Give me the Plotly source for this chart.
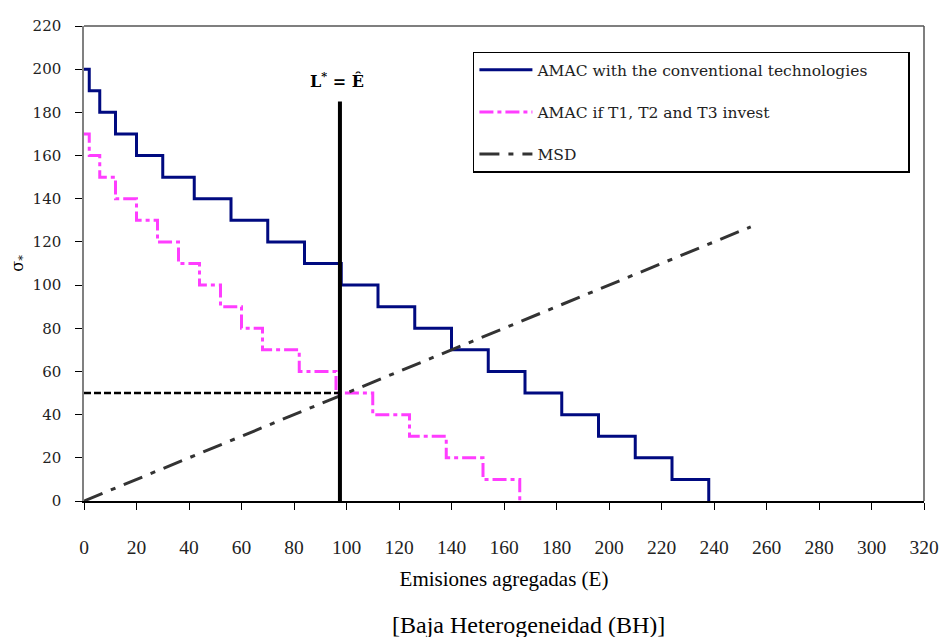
import plotly.graph_objects as go

# ---- data ----
amac_conv_x = [0, 2, 6, 12, 20, 30, 42, 56, 70, 84, 98, 112, 126, 140, 154, 168, 182, 196, 210, 224, 238]
amac_conv_y = [200, 190, 180, 170, 160, 150, 140, 130, 120, 110, 100, 90, 80, 70, 60, 50, 40, 30, 20, 10, 0]

amac_inv_x = [0, 2, 6, 12, 20, 28, 36, 44, 52, 60, 68, 82, 96, 110, 124, 138, 152, 166]
amac_inv_y = [170, 160, 150, 140, 130, 120, 110, 100, 90, 80, 70, 60, 50, 40, 30, 20, 10, 0]

msd_x = [0, 254]
msd_y = [0, 127]

e_hat = 97.5
e_hat_top = 185
sigma_eq = 50

x_ticks = list(range(0, 321, 20))
y_ticks = list(range(0, 221, 20))

serif = "DejaVu Serif"
times = "Liberation Serif"
nb = "\u00a0"

fig = go.Figure()

fig.add_trace(go.Scatter(
    x=amac_conv_x, y=amac_conv_y, mode="lines", line_shape="hv",
    line=dict(color="#000a80", width=3),
    name="AMAC with the conventional technologies" + nb * 7, legendgroup="a"))

fig.add_trace(go.Scatter(
    x=amac_inv_x, y=amac_inv_y, mode="lines", line_shape="hv",
    line=dict(color="#ff3dff", width=3, dash="14px,4px,4px,4px"),
    name="AMAC if T1, T2 and T3 invest", legendgroup="b"))

fig.add_trace(go.Scatter(
    x=msd_x, y=msd_y, mode="lines",
    line=dict(color="#333333", width=3, dash="20px,9px,5px,9px"),
    name="MSD", legendgroup="c"))

# vertical line at E-hat
fig.add_trace(go.Scatter(
    x=[e_hat, e_hat], y=[0, e_hat_top], mode="lines",
    line=dict(color="black", width=4), showlegend=False))

# horizontal dashed at equilibrium sigma
fig.add_trace(go.Scatter(
    x=[0, e_hat], y=[sigma_eq, sigma_eq], mode="lines",
    line=dict(color="black", width=2.5, dash="7px,3px"), showlegend=False))

fig.add_annotation(x=e_hat - 1, y=195, xref="x", yref="y",
                   text="<b>L<sup>*</sup> = Ê</b>", showarrow=False,
                   font=dict(family=serif, size=16, color="black"))

fig.add_annotation(x=0.5286, y=-0.26, xref="paper", yref="paper",
                   text="[Baja Heterogeneidad (BH)]", showarrow=False,
                   xanchor="center", yanchor="middle",
                   font=dict(family=times, size=24, color="black"))

fig.add_annotation(x=-0.079, y=0.501, xref="paper", yref="paper",
                   text="σ<sub>*</sub>", showarrow=False, textangle=-90,
                   xanchor="center", yanchor="middle",
                   font=dict(family=serif, size=16, color="black"))

# top and right frame
fig.add_shape(type="line", xref="paper", yref="paper", x0=0, x1=1, y0=1, y1=1,
              line=dict(color="#555555", width=1.5))
fig.add_shape(type="line", xref="paper", yref="paper", x0=1, x1=1, y0=0, y1=1,
              line=dict(color="#555555", width=1.5))

fig.update_xaxes(range=[0, 320], tickvals=x_ticks, ticktext=[str(v) for v in x_ticks],
                 showgrid=False, zeroline=False, showline=True, linecolor="black", linewidth=1.5,
                 ticks="outside", ticklen=7, tickcolor="black", tickwidth=1.2,
                 ticklabelstandoff=21, automargin=False,
                 tickfont=dict(family=times, size=19.5, color="#222"),
                 title=dict(text="Emisiones agregadas (E)", standoff=14,
                            font=dict(family=times, size=21, color="black")))

fig.update_yaxes(range=[0, 220], tickvals=y_ticks, ticktext=[str(v) for v in y_ticks],
                 showgrid=False, zeroline=False, showline=True, linecolor="#808080", linewidth=1.5,
                 ticks="outside", ticklen=7, tickcolor="black", tickwidth=1.2,
                 ticklabelstandoff=11, automargin=False,
                 tickfont=dict(family=serif, size=15, color="#222"))

fig.update_layout(
    template="none",
    font=dict(family=serif, size=14, color="black"),
    width=942, height=637,
    margin=dict(l=84, r=18, t=26, b=136, pad=0),
    paper_bgcolor="white", plot_bgcolor="white",
    legend=dict(x=0.463, y=0.946, xanchor="left", yanchor="top",
                bgcolor="white", bordercolor="black", borderwidth=1.5,
                font=dict(family=serif, size=15.5, color="#222"),
                tracegroupgap=19, itemwidth=53),
    showlegend=True,
)

fig.write_html("out.html", config={"displayModeBar": False},
               post_script="document.body.style.margin='0';")
